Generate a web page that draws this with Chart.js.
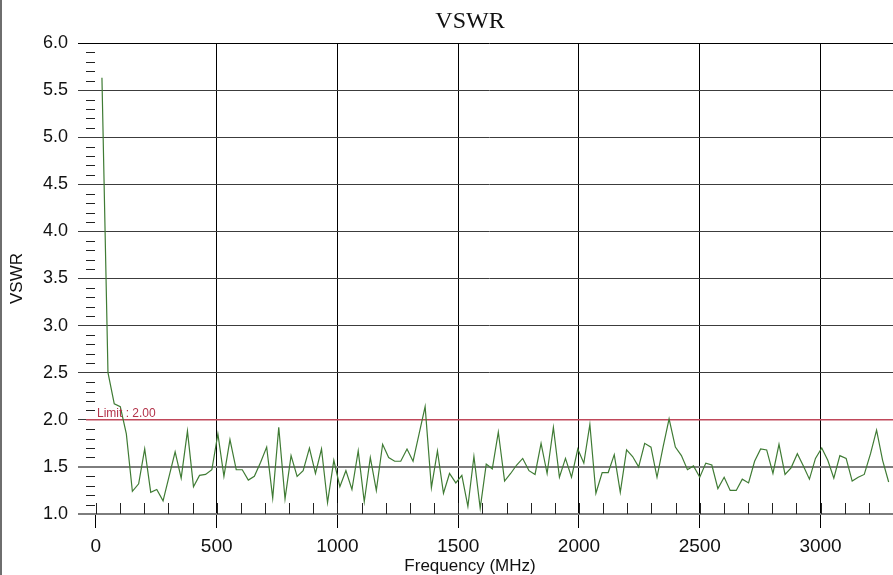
<!DOCTYPE html>
<html>
<head>
<meta charset="utf-8">
<title>VSWR</title>
<script src="https://cdn.jsdelivr.net/npm/chart.js@4.4.1/dist/chart.umd.min.js"></script>
<style>
  html, body { margin: 0; padding: 0; background: #fff; }
  canvas { display: block; }
</style>
</head>
<body>
<canvas id="vswrChart" width="893" height="575"></canvas>
<script>
// sweep frequencies (MHz)
const freqMHz = [
  25, 50, 76, 101, 126, 151, 177, 202, 227, 252, 278, 303, 328, 353, 379, 404, 429, 454, 480, 505,
  530, 555, 581, 606, 631, 656, 682, 707, 732, 757, 783, 808, 833, 858, 884, 909, 934, 959, 985, 1010,
  1035, 1060, 1086, 1111, 1136, 1161, 1187, 1212, 1237, 1262, 1288, 1313, 1338, 1363, 1389, 1414, 1439, 1464, 1490, 1515,
  1540, 1565, 1591, 1616, 1641, 1666, 1692, 1717, 1742, 1767, 1793, 1818, 1843, 1868, 1894, 1919, 1944, 1969, 1995, 2020,
  2045, 2070, 2096, 2121, 2146, 2171, 2197, 2222, 2247, 2272, 2298, 2323, 2348, 2373, 2399, 2424, 2449, 2474, 2500, 2525,
  2550, 2575, 2601, 2626, 2651, 2676, 2702, 2727, 2752, 2777, 2803, 2828, 2853, 2878, 2904, 2929, 2954, 2979, 3005, 3030,
  3055, 3080, 3106, 3131, 3156, 3181, 3207, 3232, 3257, 3282
];

// measured VSWR
const vswr = [
  5.63, 2.50, 2.17, 2.14, 1.85, 1.24, 1.32, 1.69, 1.23, 1.26, 1.14, 1.40, 1.66, 1.38, 1.88, 1.29, 1.41, 1.42, 1.47, 1.85,
  1.40, 1.79, 1.47, 1.47, 1.36, 1.40, 1.55, 1.71, 1.17, 1.92, 1.16, 1.62, 1.40, 1.46, 1.70, 1.43, 1.69, 1.12, 1.57, 1.29,
  1.46, 1.26, 1.67, 1.13, 1.60, 1.25, 1.74, 1.60, 1.56, 1.56, 1.69, 1.56, 1.85, 2.14, 1.28, 1.67, 1.22, 1.43, 1.33, 1.41,
  1.08, 1.61, 1.06, 1.53, 1.48, 1.87, 1.35, 1.43, 1.52, 1.59, 1.46, 1.42, 1.75, 1.43, 1.92, 1.39, 1.59, 1.39, 1.69, 1.54,
  1.95, 1.22, 1.44, 1.44, 1.63, 1.23, 1.68, 1.61, 1.50, 1.75, 1.71, 1.39, 1.71, 2.01, 1.71, 1.62, 1.47, 1.51, 1.39, 1.54,
  1.52, 1.27, 1.39, 1.25, 1.25, 1.37, 1.33, 1.56, 1.69, 1.68, 1.43, 1.74, 1.42, 1.49, 1.64, 1.51, 1.37, 1.59, 1.70, 1.57,
  1.38, 1.62, 1.59, 1.35, 1.39, 1.42, 1.64, 1.89, 1.57, 1.34
];

const limitVSWR = 2.0;
const xTickValues = [0, 500, 1000, 1500, 2000, 2500, 3000];
const yTickValues = [1.0, 1.5, 2.0, 2.5, 3.0, 3.5, 4.0, 4.5, 5.0, 5.5, 6.0];
const xRange = [-41, 3300];
const yRange = [1.0, 6.0];

// small ruler ticks + limit label + titles
const decorations = {
  id: 'decorations',
  beforeDatasetsDraw(chart) {
    const { ctx, chartArea: a, scales: { x, y } } = chart;
    ctx.save();
    ctx.strokeStyle = '#222';
    ctx.lineWidth = 1;
    ctx.beginPath();
    for (let f = 0; f <= xRange[1]; f += 100) {
      const px = Math.round(x.getPixelForValue(f)) + 0.5;
      ctx.moveTo(px, a.bottom);
      ctx.lineTo(px, a.bottom - 11);
    }
    for (let t = 11; t < 60; t++) {
      if (t % 5 === 0) continue;
      const py = Math.round(y.getPixelForValue(t / 10)) + 0.5;
      ctx.moveTo(a.left, py);
      ctx.lineTo(a.left + 9, py);
    }
    ctx.stroke();
    ctx.restore();
  },
  afterDraw(chart) {
    const { ctx, chartArea: a, scales: { y } } = chart;
    ctx.save();
    // frame edge on the left
    ctx.fillStyle = '#6e6e6e';
    ctx.fillRect(0, 0, 2, chart.height);

    ctx.fillStyle = '#b3334a';
    ctx.font = '12px "Liberation Sans", Arial, sans-serif';
    ctx.textAlign = 'left';
    ctx.textBaseline = 'alphabetic';
    ctx.fillText('Limit : ' + limitVSWR.toFixed(2), a.left + 11, y.getPixelForValue(limitVSWR) - 3);

    ctx.fillStyle = '#111';
    ctx.textAlign = 'center';
    ctx.textBaseline = 'middle';
    ctx.font = '24px "Liberation Serif", "Times New Roman", serif';
    ctx.fillText('VSWR', 470, 22);
    ctx.font = '17px "Liberation Sans", Arial, sans-serif';
    ctx.fillText('Frequency (MHz)', 470, 566);
    ctx.restore();
  }
};

const ctx = document.getElementById('vswrChart').getContext('2d');
new Chart(ctx, {
  type: 'line',
  data: {
    datasets: [
      {
        label: 'VSWR',
        data: freqMHz.map((f, i) => ({ x: f, y: vswr[i] })),
        borderColor: '#3f7b34',
        borderWidth: 1.2,
        pointRadius: 0,
        tension: 0,
        fill: false
      },
      {
        label: 'Limit',
        data: [{ x: xRange[0], y: limitVSWR }, { x: xRange[1], y: limitVSWR }],
        borderColor: '#c0485a',
        borderWidth: 1.5,
        pointRadius: 0,
        fill: false
      }
    ]
  },
  options: {
    responsive: false,
    animation: false,
    layout: { padding: { top: 43, right: 0, bottom: 0, left: 0 } },
    plugins: {
      legend: { display: false },
      tooltip: { enabled: false },
      title: { display: false }
    },
    scales: {
      x: {
        type: 'linear',
        min: xRange[0],
        max: xRange[1],
        afterBuildTicks: scale => { scale.ticks = xTickValues.map(v => ({ value: v })); },
        afterFit: scale => { scale.height = 61; },
        border: { display: false },
        grid: {
          color: c => (c.tick && c.tick.value === 0 ? 'rgba(0,0,0,0)' : '#000'),
          tickColor: '#000',
          lineWidth: 1,
          tickLength: 14
        },
        ticks: {
          color: '#111',
          font: { family: '"Liberation Sans", Arial, sans-serif', size: 19 },
          padding: 7,
          maxRotation: 0,
          callback: v => String(v)
        }
      },
      y: {
        type: 'linear',
        min: yRange[0],
        max: yRange[1],
        afterBuildTicks: scale => { scale.ticks = yTickValues.map(v => ({ value: v })); },
        afterFit: scale => { scale.width = 86; },
        border: { display: false },
        grid: {
          color: c => {
            const v = c.tick ? c.tick.value : 0;
            if (v === 1.0 || v === 1.5) return '#7d7d7d';
            if (v === 6.0) return '#000';
            return '#3c3c3c';
          },
          lineWidth: c => (c.tick && (c.tick.value === 1.0 || c.tick.value === 1.5) ? 2 : 1),
          tickLength: 8
        },
        ticks: {
          color: '#111',
          font: { family: '"Liberation Sans", Arial, sans-serif', size: 18 },
          padding: 10,
          callback: v => Number(v).toFixed(1)
        },
        title: {
          display: true,
          text: 'VSWR',
          color: '#111',
          font: { family: '"Liberation Sans", Arial, sans-serif', size: 17 },
          padding: { top: 7, bottom: 0 }
        }
      }
    }
  },
  plugins: [decorations]
});
</script>
</body>
</html>
